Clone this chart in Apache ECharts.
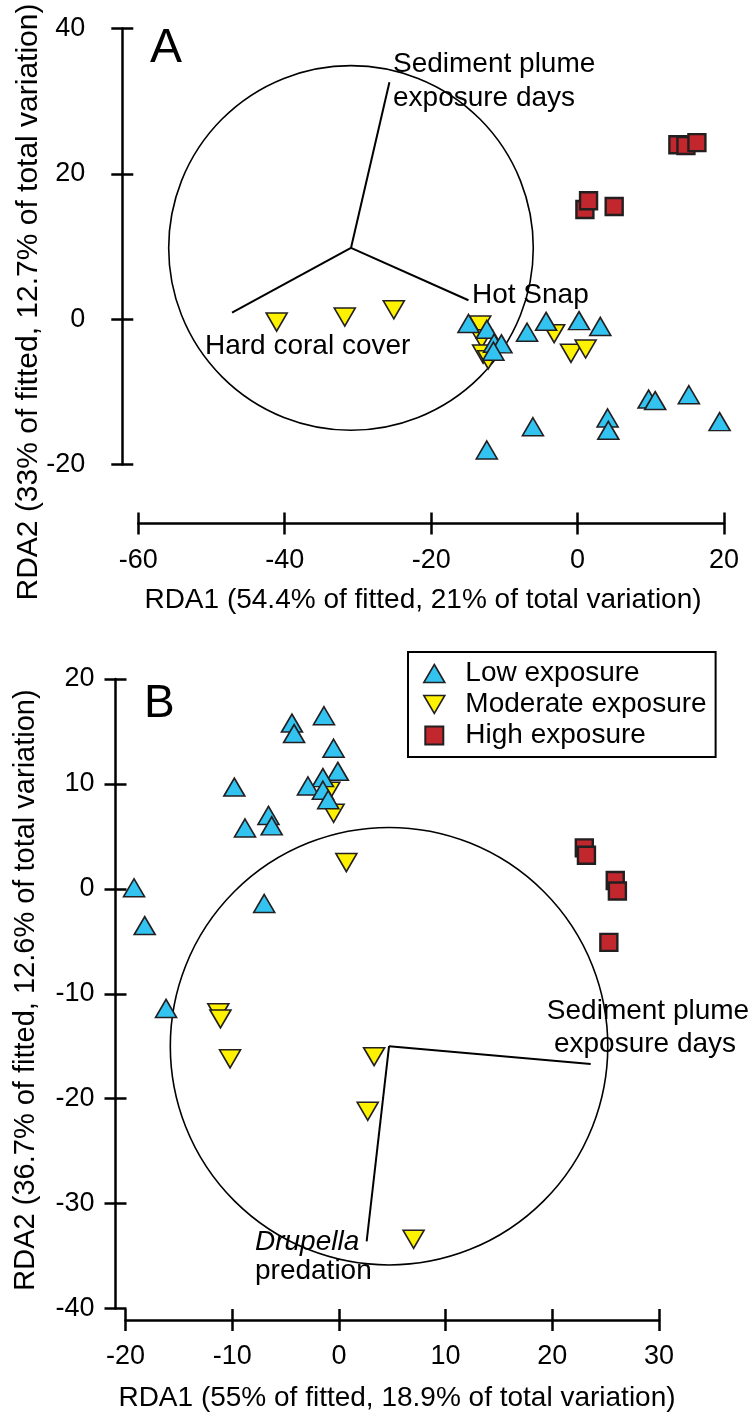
<!DOCTYPE html>
<html>
<head>
<meta charset="utf-8">
<script src="https://cdn.jsdelivr.net/npm/echarts@6/dist/echarts.min.js"></script>
<style>
html,body{margin:0;padding:0;background:#fff;}
#c{width:755px;height:1414px;}
</style>
</head>
<body>
<div id="c"></div>
<script>
// ---------- Panel A data ----------
const A_low = [[-14.9,-0.6],[-12.4,-1.4],[-11.4,-3.3],[-10.4,-3.4],[-11.5,-4.4],[-6.9,-1.8],[-4.3,-0.3],[0.2,-0.2],[3.1,-1.0],[9.7,-11.0],[10.6,-11.2],[15.2,-10.4],[19.4,-14.1],[4.1,-13.6],[4.2,-15.3],[-6.1,-14.8],[-12.4,-18.0]];
const A_mod = [[-41.1,-0.4],[-31.8,0.3],[-25.1,1.3],[-13.3,-0.8],[-13.1,-2.7],[-12.9,-4.8],[-12.2,-5.6],[-3.2,-2.0],[-0.9,-4.7],[1.1,-4.1]];
const A_high = [[13.7,24.0],[14.8,23.9],[16.3,24.3],[1.0,15.1],[1.5,16.3],[5.0,15.5]];
const A_origin = [-30.95, 9.8];
const A_vectors = [[-25.7, 32.6], [-14.9, 2.6], [-47.2, 0.9]];
const A_circleR = 24.9;
const A_xTicks = [-60, 20, 20];   // min, max, interval
const A_yTicks = [-20, 40, 20];

// ---------- Panel B data ----------
const B_low = [[-19.2,0.1],[-18.2,-3.5],[-9.8,9.7],[-8.8,5.8],[-6.6,7.0],[-6.3,6.0],[-7.0,-1.4],[-4.4,15.8],[-4.2,14.8],[-1.4,16.5],[-0.5,13.4],[-0.1,11.2],[-1.5,10.6],[-2.9,9.8],[-1.5,9.4],[-1.0,8.5],[-16.2,-11.4]];
const B_mod = [[-0.9,9.3],[-0.5,7.2],[0.7,2.5],[-11.3,-11.8],[-11.1,-12.4],[-10.2,-16.2],[3.3,-16.0],[2.7,-21.2],[7.0,-33.4]];
const B_high = [[23.0,3.9],[23.2,3.2],[25.9,0.8],[26.1,-0.2],[25.3,-5.1]];
const B_origin = [4.7, -15.0];
const B_vectors = [[23.6, -16.7], [2.6, -33.6]];
const B_circleR = 20.5;
const B_xTicks = [-20, 30, 10];
const B_yTicks = [-40, 20, 10];

const seriesNames = ['Low exposure', 'Moderate exposure', 'High exposure'];

// ---------- styles ----------
const FONT = '"Liberation Sans", Arial, Helvetica, sans-serif';
const BLUE = '#33C3F0', YELLOW = '#FFF200', RED = '#C1272D', EDGE = '#231F20';
const AX_W = 2.5, TICK_L = 11;

function axisPair(dim, grid, ticks, offset, margin) {
  const base = {
    type: 'value', gridIndex: grid, min: ticks[0], max: ticks[1], interval: ticks[2],
    position: dim === 'x' ? 'bottom' : 'left', offset: offset,
    splitLine: {show: false}
  };
  const main = Object.assign({}, base, {
    axisLine: {show: true, onZero: false, lineStyle: {color: '#000', width: AX_W}},
    axisTick: {show: true, inside: false, length: TICK_L, lineStyle: {color: '#000', width: AX_W}},
    axisLabel: {show: true, color: '#000', fontSize: 27, fontFamily: FONT, margin: margin}
  });
  const inner = Object.assign({}, base, {
    axisLine: {show: false, onZero: false},
    axisTick: {show: true, inside: true, length: TICK_L, lineStyle: {color: '#000', width: AX_W}},
    axisLabel: {show: false}
  });
  return [main, inner];
}

function panelSeries(xi, yi, low, mod, high, origin, vectors, r) {
  return [
    {
      type: 'custom', xAxisIndex: xi, yAxisIndex: yi, silent: true, z: 1,
      data: [[origin[0], origin[1], r]],
      renderItem: function (params, api) {
        const c = api.coord([api.value(0), api.value(1)]);
        const s = api.size([api.value(2), 0]);
        return {type: 'circle', shape: {cx: c[0], cy: c[1], r: s[0]},
          style: {fill: 'none', stroke: '#000', lineWidth: 1.6}};
      }
    },
    {
      type: 'lines', coordinateSystem: 'cartesian2d', xAxisIndex: xi, yAxisIndex: yi, silent: true, z: 1,
      lineStyle: {color: '#000', width: 2, opacity: 1},
      data: vectors.map(v => ({coords: [origin, v]}))
    },
    {
      name: seriesNames[1], type: 'scatter', xAxisIndex: xi, yAxisIndex: yi, z: 2,
      symbol: 'triangle', symbolRotate: 180, symbolSize: [21, 18],
      itemStyle: {color: YELLOW, borderColor: EDGE, borderWidth: 1.6, opacity: 1},
      data: mod
    },
    {
      name: seriesNames[0], type: 'scatter', xAxisIndex: xi, yAxisIndex: yi, z: 3,
      symbol: 'triangle', symbolSize: [21, 18],
      itemStyle: {color: BLUE, borderColor: EDGE, borderWidth: 1.6, opacity: 1},
      data: low
    },
    {
      name: seriesNames[2], type: 'scatter', xAxisIndex: xi, yAxisIndex: yi, z: 4,
      symbol: 'rect', symbolSize: 17,
      itemStyle: {color: RED, borderColor: EDGE, borderWidth: 2.4, opacity: 1},
      data: high
    }
  ];
}

function txt(text, x, y, size, opts) {
  return Object.assign({
    type: 'text', x: x, y: y, silent: true,
    style: Object.assign({text: text, fill: '#000', font: (opts && opts.italic ? 'italic ' : '') + size + 'px ' + FONT,
      align: (opts && opts.align) || 'left', verticalAlign: 'middle'})
  }, opts && opts.rotation ? {rotation: opts.rotation} : {});
}

const [ax0, ax1] = axisPair('x', 0, A_xTicks, 59, 24);
const [ay0, ay1] = axisPair('y', 0, A_yTicks, 16, 37);
const [bx0, bx1] = axisPair('x', 1, B_xTicks, 11.5, 23);
const [by0, by1] = axisPair('y', 1, B_yTicks, 10, 21);

const option = {
  animation: false,
  backgroundColor: '#fff',
  grid: [
    {left: 138.3, top: 28.5, width: 585.7, height: 436, containLabel: false, outerBoundsMode: 'none'},
    {left: 125.5, top: 679, width: 533.5, height: 629.5, containLabel: false, outerBoundsMode: 'none'}
  ],
  xAxis: [ax0, ax1, bx0, bx1],
  yAxis: [ay0, ay1, by0, by1],
  legend: {
    show: true, orient: 'vertical', left: 408, top: 652,
    padding: [6, 9, 6, 15], itemGap: 0, itemWidth: 21, itemHeight: 18,
    symbolKeepAspect: true,
    borderColor: '#000', borderWidth: 2, borderRadius: 0, backgroundColor: '#fff',
    textStyle: {fontSize: 28, fontFamily: FONT, color: '#000', lineHeight: 31},
    formatter: function (name) { return '  ' + name; },
    data: [
      {name: seriesNames[0], icon: 'triangle', itemStyle: {color: BLUE, borderColor: EDGE, borderWidth: 1.6}},
      {name: seriesNames[1], icon: 'path://M0,0 L21,0 L10.5,18 Z', itemStyle: {color: YELLOW, borderColor: EDGE, borderWidth: 1.6}},
      {name: seriesNames[2], icon: 'path://M0,0 L16,0 L16,16 L0,16 Z', itemStyle: {color: RED, borderColor: EDGE, borderWidth: 2}}
    ],
    selectedMode: false
  },
  series: [].concat(
    panelSeries(0, 0, A_low, A_mod, A_high, A_origin, A_vectors, A_circleR),
    panelSeries(2, 2, B_low, B_mod, B_high, B_origin, B_vectors, B_circleR)
  ),
  graphic: [
    txt('A', 150, 49, 48),
    txt('Sediment plume', 393, 64.5, 28),
    txt('exposure days', 393, 98.5, 28),
    txt('Hot Snap', 472, 295, 28),
    txt('Hard coral cover', 205, 346, 28),
    txt('RDA1 (54.4% of fitted, 21% of total variation)', 423, 600, 28, {align: 'center'}),
    txt('RDA2 (33% of fitted, 12.7% of total variation)', 29, 302, 30, {align: 'center', rotation: Math.PI / 2}),
    txt('B', 144, 704, 46),
    txt('Sediment plume', 648, 1011, 28, {align: 'center'}),
    txt('exposure days', 645, 1044.5, 28, {align: 'center'}),
    txt('Drupella', 255, 1242.5, 28, {italic: true}),
    txt('predation', 255, 1271, 28),
    txt('RDA1 (55% of fitted, 18.9% of total variation)', 397, 1398, 28, {align: 'center'}),
    txt('RDA2 (36.7% of fitted, 12.6% of total variation)', 25.5, 990, 29, {align: 'center', rotation: Math.PI / 2})
  ]
};

const chart = echarts.init(document.getElementById('c'), null, {renderer: 'canvas'});
chart.setOption(option);
</script>
</body>
</html>
